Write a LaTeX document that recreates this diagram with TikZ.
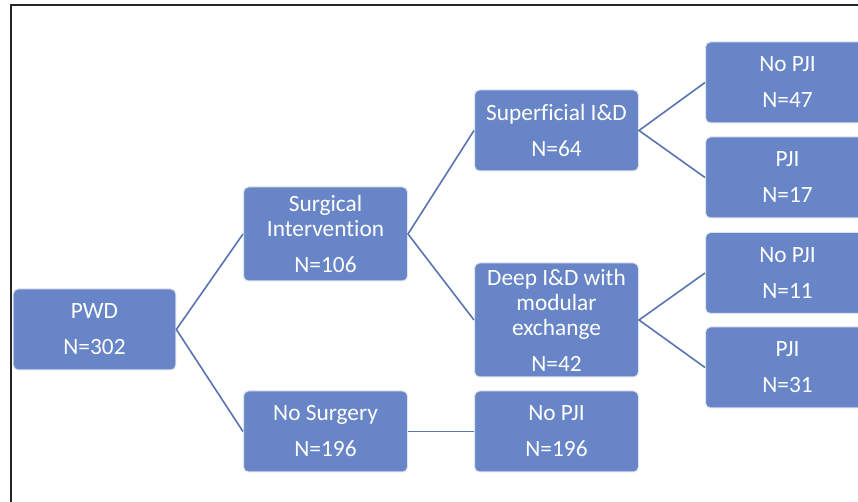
\documentclass[tikz,border=0pt]{standalone}
\usepackage{fontspec}
\setmainfont{Carlito}[Ligatures={NoCommon,NoContextual,NoRare}]
\definecolor{boxblue}{RGB}{103,133,199}
\definecolor{edgeblue}{RGB}{90,116,178}
\definecolor{boxrim}{RGB}{222,228,238}
\begin{document}
\begin{tikzpicture}[x=0.75pt,y=-0.75pt,
  box/.style={rectangle, rounded corners=3.75pt, fill=boxblue, draw=boxrim, line width=0.75pt,
    minimum width=123pt, inner sep=0pt, align=center, text=white,
    font=\fontsize{17.5}{18.75}\selectfont},
  h81/.style={minimum height=60.75pt},
  h94/.style={minimum height=70.5pt},
  h114/.style={minimum height=85.5pt},
  link/.style={draw=edgeblue, line width=1.2pt}]
\clip (0,0) rectangle (858,502);
\fill[white] (0,0) rectangle (858,502);
\draw[black!85, line width=1.5pt] (10.5,510) -- (10.5,5.5) -- (870,5.5);

\node[box,h81,minimum width=122pt] (pwd) at (94.5,329.5) {PWD\\[8.25pt]N=302};
\node[box,h94] (surg) at (325.5,234) {Surgical\\Intervention\\[8.25pt]N=106};
\node[box,h81] (nosurg) at (325.5,431.5) {No Surgery\\[8.25pt]N=196};
\node[box,h81] (sup) at (556.5,130.5) {Superficial I\&D\\[8.25pt]N=64};
\node[box,h114] (deep) at (556.5,320) {Deep I\&D with\\modular\\exchange\\[8.25pt]N=42};
\node[box,h81] (nopji196) at (556.5,431.5) {No PJI\\[8.25pt]N=196};
\node[box,h81] (nopji47) at (787.5,82.5) {No PJI\\[8.25pt]N=47};
\node[box,h81] (pji17) at (787.5,177.5) {PJI\\[8.25pt]N=17};
\node[box,h81] (nopji11) at (787.5,273) {No PJI\\[8.25pt]N=11};
\node[box,h81] (pji31) at (787.5,367.5) {PJI\\[8.25pt]N=31};

\draw[link] (surg.west) -- (pwd.east) -- (nosurg.west);
\draw[link] (sup.west) -- (surg.east) -- (deep.west);
\draw[link] (nosurg.east) -- (nopji196.west);
\draw[link] (nopji47.west) -- (sup.east) -- (pji17.west);
\draw[link] (nopji11.west) -- (deep.east) -- (pji31.west);
\end{tikzpicture}
\end{document}
